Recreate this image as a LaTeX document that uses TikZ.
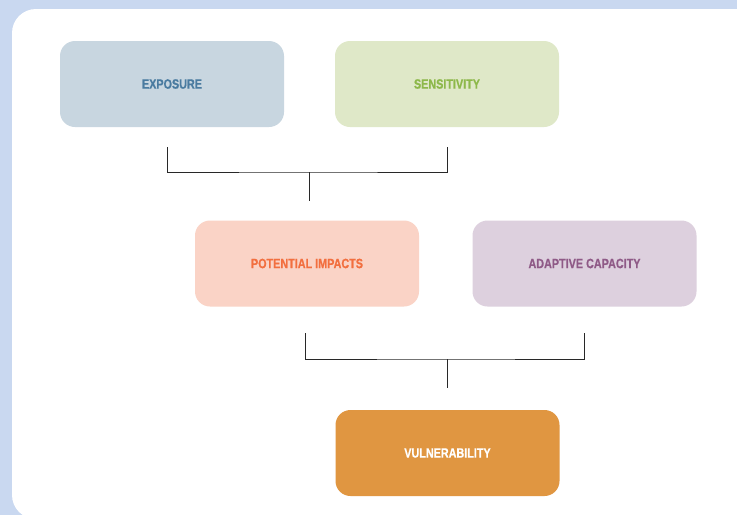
\documentclass[tikz,border=0pt]{standalone}
\usepackage{fontspec}
\newfontfamily\labfont[FakeStretch=0.8,FakeBold=0.6]{Liberation Sans}
\definecolor{bgblue}{RGB}{201,216,240}
\definecolor{expfill}{RGB}{200,214,224}
\definecolor{exptext}{RGB}{74,123,160}
\definecolor{senfill}{RGB}{223,232,200}
\definecolor{sentext}{RGB}{141,184,74}
\definecolor{potfill}{RGB}{250,211,198}
\definecolor{pottext}{RGB}{242,111,63}
\definecolor{adafill}{RGB}{221,208,222}
\definecolor{adatext}{RGB}{143,90,135}
\definecolor{vulfill}{RGB}{224,150,65}
\definecolor{linecol}{RGB}{40,40,40}
\begin{document}
\begin{tikzpicture}[x=1pt,y=-1pt,
  box/.style={rounded corners=15pt,minimum width=224pt,minimum height=86pt,inner sep=0pt,
    font=\labfont\bfseries\fontsize{13.5}{15}\selectfont},
  conn/.style={draw=linecol,line width=1pt}]
\useasboundingbox (0,0) rectangle (737,515);
\fill[bgblue] (0,0) rectangle (737,515);
\fill[white,rounded corners=24pt] (12,9) rectangle (780,519);
\node[box,fill=expfill,text=exptext] (exp) at (172,84) {EXPOSURE};
\node[box,fill=senfill,text=sentext] (sen) at (447,84) {SENSITIVITY};
\node[box,fill=potfill,text=pottext] (pot) at (307,263.5) {POTENTIAL IMPACTS};
\node[box,fill=adafill,text=adatext] (ada) at (584.5,263.5) {ADAPTIVE CAPACITY};
\node[box,fill=vulfill,text=white] (vul) at (447.5,453) {VULNERABILITY};
\coordinate (a1) at (167,147);
\coordinate (a2) at (447,147);
\coordinate (a3) at (309,172);
\coordinate (a4) at (309,201);
\draw[conn] (a1) |- (a3) -| (a2);
\draw[conn] (a3) -- (a4);
\coordinate (b1) at (305,333);
\coordinate (b2) at (584,333);
\coordinate (b3) at (447,359);
\coordinate (b4) at (447,388);
\draw[conn] (b1) |- (b3) -| (b2);
\draw[conn] (b3) -- (b4);
\end{tikzpicture}
\end{document}
